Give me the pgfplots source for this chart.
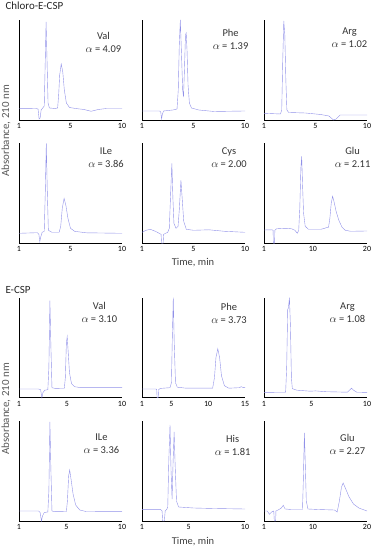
\documentclass[border=0pt]{standalone}
\usepackage{fontspec}
\setmainfont{Carlito}
\usepackage{pgfplots}
\pgfplotsset{compat=1.18}
\definecolor{trace}{RGB}{145,145,232}
\pgfplotsset{chrom/.style={
  width=103bp,height=100bp,scale only axis,anchor=south west,
  axis x line*=bottom, axis y line*=left,
  axis line style={line width=0.8bp,-,black},
  ymin=0,ymax=1,ytick=\empty,
  xmin=0,xmax=10,xtick={0,5,10},xticklabels={1,5,10},
  major tick length=0pt,
  tick label style={font=\fontsize{8}{8}\selectfont},
  cycle list={{trace,no markers,line width=0.75bp,line join=round}},
  clip=false}}
\newcommand{\lab}[3]{\node[align=center,font=\fontsize{10.5}{13}\selectfont,text=black!80] at (rel axis cs:#1) {#2\\$\alpha$ = #3};}
\begin{document}
\begin{tikzpicture}[x=1bp,y=1bp]
\useasboundingbox (0,0) rectangle (376,550);
% ---------- Chloro-E-CSP row 1
\begin{axis}[chrom,at={(19bp,430bp)}]
\addplot coordinates {(0,0.117) (1.6,0.115) (1.85,0.11) (1.95,0.01) (2.05,0.02) (2.15,0.10) (2.3,0.12) (2.45,0.14) (2.55,0.6) (2.63,0.98) (2.72,0.6) (2.82,0.17) (2.95,0.12) (3.5,0.115) (3.75,0.12) (3.85,0.25) (3.95,0.45) (4.1,0.56) (4.25,0.48) (4.4,0.3) (4.6,0.17) (4.9,0.125) (5.5,0.115) (6.3,0.105) (7.0,0.087) (7.7,0.105) (8.5,0.115) (10,0.115)};
\lab{0.82,0.78}{Val}{4.09}
\end{axis}
\begin{axis}[chrom,at={(142bp,430bp)}]
\addplot coordinates {(0,0.09) (1.7,0.09) (1.82,0.08) (1.9,0.01) (1.98,0.06) (2.1,0.09) (3.0,0.1) (3.4,0.11) (3.52,0.3) (3.62,0.75) (3.72,1.0) (3.82,0.7) (3.95,0.3) (4.03,0.23) (4.12,0.5) (4.22,0.85) (4.29,0.87) (4.37,0.7) (4.47,0.35) (4.6,0.17) (4.8,0.12) (5.5,0.1) (7,0.085) (10,0.09)};
\lab{0.86,0.81}{Phe}{1.39}
\end{axis}
\begin{axis}[chrom,at={(264bp,430bp)}]
\addplot coordinates {(0,0.067) (1.6,0.06) (1.72,0.1) (1.82,0.6) (1.92,0.99) (2.02,0.85) (2.12,0.4) (2.22,0.1) (2.4,0.075) (4,0.07) (5.5,0.055) (6.3,0.04) (6.75,0.0) (7.0,0.01) (7.4,0.05) (10,0.05)};
\lab{0.83,0.82}{Arg}{1.02}
\end{axis}
% ---------- row 2
\begin{axis}[chrom,at={(19bp,306.7bp)}]
\addplot coordinates {(0,0.1) (1.5,0.105) (1.8,0.105) (1.93,0.09) (2.02,0.017) (2.1,0.06) (2.25,0.11) (2.45,0.12) (2.55,0.5) (2.65,1.0) (2.74,0.55) (2.85,0.13) (3.2,0.11) (3.9,0.11) (4.05,0.17) (4.2,0.35) (4.38,0.45) (4.55,0.38) (4.75,0.25) (5.0,0.15) (5.4,0.12) (6.5,0.105) (10,0.1)};
\lab{0.845,0.86}{ILe}{3.86}
\end{axis}
\begin{axis}[chrom,at={(142bp,306.7bp)}]
\addplot coordinates {(0,0.11) (0.4,0.13) (0.8,0.14) (1.3,0.12) (1.75,0.095) (1.85,0.09) (1.9,0.0) (2.05,0.0) (2.1,0.09) (2.3,0.1) (2.5,0.11) (2.65,0.15) (2.78,0.5) (2.9,0.8) (3.0,0.45) (3.1,0.2) (3.3,0.15) (3.5,0.17) (3.63,0.35) (3.78,0.63) (3.9,0.45) (4.05,0.22) (4.3,0.14) (5,0.13) (6.5,0.135) (8,0.12) (10,0.11)};
\lab{0.845,0.86}{Cys}{2.00}
\end{axis}
\begin{axis}[chrom,at={(264bp,306.7bp)},xmin=1,xmax=20,xtick={1,10,20},xticklabels={1,10,20}]
\addplot coordinates {(1,0.133) (2.5,0.135) (2.68,0.13) (2.72,0.0) (2.95,0.0) (3.0,0.13) (3.3,0.145) (5,0.15) (6.1,0.145) (6.7,0.13) (7.15,0.1) (7.4,0.13) (7.6,0.35) (7.8,0.75) (7.95,0.87) (8.1,0.6) (8.3,0.3) (8.6,0.17) (9.2,0.14) (11.5,0.14) (12.2,0.15) (12.5,0.157) (12.9,0.16) (13.15,0.25) (13.4,0.4) (13.65,0.47) (13.9,0.42) (14.3,0.32) (14.8,0.23) (15.4,0.16) (16,0.13) (17,0.12) (20,0.123)};
\lab{0.86,0.86}{Glu}{2.11}
\end{axis}
% ---------- E-CSP row 3
\begin{axis}[chrom,at={(19bp,152.3bp)},xtick={0,4.66,10}]
\addplot coordinates {(0,0.087) (1.9,0.087) (2.1,0.08) (2.22,0.0) (2.32,0.05) (2.5,0.075) (2.8,0.08) (2.9,0.3) (3.0,0.97) (3.1,0.5) (3.2,0.1) (3.5,0.093) (4.4,0.095) (4.5,0.2) (4.6,0.55) (4.68,0.61) (4.78,0.45) (4.9,0.25) (5.1,0.14) (5.4,0.11) (6,0.1) (10,0.1)};
\lab{0.78,0.85}{Val}{3.10}
\end{axis}
\begin{axis}[chrom,at={(142bp,152.3bp)},xmin=1,xmax=15,xtick={1,5,10,15},xticklabels={1,5,10,15}]
\addplot coordinates {(1,0.087) (2.9,0.087) (3.0,0.08) (3.05,0.0) (3.2,0.0) (3.25,0.08) (3.5,0.093) (4.8,0.1) (5.0,0.15) (5.12,0.6) (5.25,1.0) (5.38,0.55) (5.55,0.15) (5.8,0.105) (7,0.095) (10.6,0.095) (10.85,0.2) (11.05,0.4) (11.3,0.49) (11.55,0.4) (11.8,0.22) (12.2,0.12) (12.8,0.095) (14.2,0.1) (14.5,0.11) (14.8,0.1) (15,0.1)};
\lab{0.845,0.84}{Phe}{3.73}
\end{axis}
\begin{axis}[chrom,at={(264bp,152.3bp)},xtick={0,4.6,10}]
\addplot coordinates {(0,0.053) (2.1,0.055) (2.2,0.3) (2.3,0.88) (2.37,0.9) (2.47,1.0) (2.57,0.7) (2.66,0.2) (2.75,0.09) (3.2,0.075) (4.5,0.065) (5,0.068) (6,0.06) (8.1,0.055) (8.35,0.08) (8.5,0.095) (8.7,0.075) (9.0,0.055) (10,0.053)};
\lab{0.81,0.85}{Arg}{1.08}
\end{axis}
% ---------- row 4
\begin{axis}[chrom,at={(19bp,29bp)},xtick={0,4.61,10}]
\addplot coordinates {(0,0.1) (1.9,0.1) (2.05,0.085) (2.18,0.0) (2.28,0.05) (2.45,0.085) (2.8,0.09) (2.9,0.3) (3.0,0.99) (3.1,0.5) (3.2,0.1) (3.5,0.093) (4.6,0.095) (4.7,0.2) (4.82,0.45) (4.92,0.51) (5.05,0.42) (5.25,0.27) (5.5,0.16) (5.9,0.11) (6.5,0.095) (10,0.093)};
\lab{0.8,0.77}{ILe}{3.36}
\end{axis}
\begin{axis}[chrom,at={(142bp,29bp)},xtick={0,4.54,10}]
\addplot coordinates {(0,0.116) (1.8,0.116) (1.95,0.1) (2.0,0.0) (2.17,0.0) (2.25,0.1) (2.4,0.115) (2.5,0.14) (2.6,0.6) (2.72,0.96) (2.82,0.5) (2.92,0.22) (3.02,0.6) (3.12,0.89) (3.22,0.55) (3.35,0.2) (3.55,0.14) (5,0.13) (7,0.125) (10,0.12)};
\lab{0.88,0.76}{His}{1.81}
\end{axis}
\begin{axis}[chrom,at={(264bp,29bp)},xmin=1,xmax=20,xtick={1,10,20},xticklabels={1,10,20}]
\addplot coordinates {(1,0.1) (1.6,0.1) (2.0,0.067) (2.4,0.09) (2.8,0.1) (2.9,0.0) (3.15,0.0) (3.2,0.1) (3.6,0.11) (4.2,0.13) (4.55,0.157) (4.9,0.12) (6,0.115) (8.1,0.115) (8.25,0.4) (8.45,0.88) (8.6,0.6) (8.8,0.2) (9.1,0.12) (11,0.115) (14,0.11) (14.5,0.09) (14.9,0.2) (15.3,0.34) (15.6,0.38) (16,0.33) (16.7,0.24) (17.5,0.17) (18.5,0.13) (19.5,0.11) (20,0.1)};
\lab{0.81,0.77}{Glu}{2.27}
\end{axis}
% ---------- texts
\node[anchor=west,font=\fontsize{11}{12}\selectfont,text=black!85] at (2,544) {Chloro-E-CSP};
\node[anchor=west,font=\fontsize{11}{12}\selectfont,text=black!85] at (2,260) {E-CSP};
\node[rotate=90,font=\fontsize{11}{12}\selectfont,text=black!65] at (6,419) {Absorbance, 210 nm};
\node[rotate=90,font=\fontsize{11}{12}\selectfont,text=black!65] at (6,141) {Absorbance, 210 nm};
\node[font=\fontsize{10.5}{12}\selectfont,text=black!75] at (193,287) {Time, min};
\node[font=\fontsize{10.5}{12}\selectfont,text=black!75] at (193,8) {Time, min};
\end{tikzpicture}
\end{document}
